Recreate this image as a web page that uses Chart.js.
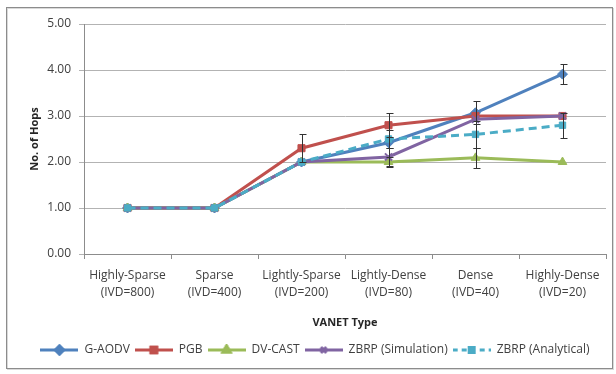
<!DOCTYPE html>
<html>
<head>
<meta charset="utf-8">
<script src="https://cdn.jsdelivr.net/npm/chart.js@4/dist/chart.umd.min.js"></script>
<style>
  html, body { margin: 0; padding: 0; background: #fff; }
  #wrap { position: relative; width: 616px; height: 374px; }
</style>
</head>
<body>
<div id="wrap"><canvas id="myChart" width="616" height="374"></canvas></div>
<script>
let labels = [['Highly-Sparse', '(IVD=800)'], ['Sparse', '(IVD=400)'], ['Lightly-Sparse', '(IVD=200)'],
  ['Lightly-Dense', '(IVD=80)'], ['Dense', '(IVD=40)'], ['Highly-Dense', '(IVD=20)']];
let seriesNames = ['G-AODV', 'PGB', 'DV-CAST', 'ZBRP (Simulation)', 'ZBRP (Analytical)'];
let gAodv = [1.00, 1.00, 2.00, 2.42, 3.07, 3.91];
let pgb = [1.00, 1.00, 2.30, 2.80, 3.00, 3.00];
let dvCast = [1.00, 1.00, 2.00, 2.00, 2.09, 2.00];
let zbrpSim = [1.00, 1.00, 2.00, 2.11, 2.93, 3.00];
let zbrpAna = [1.00, 1.00, 2.00, 2.50, 2.60, 2.80];
// +/- error bar sizes (0 = none drawn)
let gAodvErr = [0, 0, 0, 0, 0.25, 0.21];
let pgbErr = [0, 0, 0.31, 0.26, 0, 0];
let dvCastErr = [0, 0, 0, 0.1, 0.22, 0];
let zbrpSimErr = [0, 0, 0, 0.2, 0, 0];
let zbrpAnaErr = [0, 0, 0, 0.2, 0.3, 0.27];
let yTicks = [0, 1, 2, 3, 4, 5];

let colorHex = ['#4F81BD', '#C0504D', '#9BBB59', '#8064A2', '#4BACC6'];
let markers = ['rectRot', 'rect', 'triangle', 'crossRot', 'rect'];
let radii = [5, 5, 5, 5, 4.5];
let dashes = [[], [], [], [], [8, 5]];
let FONT = "'Open Sans', 'Liberation Sans', sans-serif";

// little line+marker pictures for the legend
function legendIcon(i) {
  let c = document.createElement('canvas');
  c.width = 38; c.height = 12;
  let g = c.getContext('2d');
  g.strokeStyle = colorHex[i];
  g.lineWidth = 3;
  g.setLineDash(dashes[i].length ? [5, 4] : []);
  g.beginPath(); g.moveTo(0, 6); g.lineTo(38, 6); g.stroke();
  g.setLineDash([]);
  Chart.helpers.drawPoint(g, {
    pointStyle: markers[i], radius: radii[i] - 1, borderWidth: 2, rotation: 0
  }, 19, 6);
  g.fillStyle = colorHex[i];
  g.beginPath();
  if (markers[i] !== 'crossRot') {
    Chart.helpers.drawPoint(g, {pointStyle: markers[i], radius: radii[i] - 1, borderWidth: 1, rotation: 0}, 19, 6);
    g.fill();
  }
  return c;
}

let errorBars = {
  id: 'errorBars',
  afterDatasetsDraw(chart) {
    let g = chart.ctx;
    let y = chart.scales.y;
    g.save();
    g.strokeStyle = '#333333';
    g.lineWidth = 1;
    chart.data.datasets.forEach((ds, di) => {
      let meta = chart.getDatasetMeta(di);
      ds.errors.forEach((e, k) => {
        if (!e) return;
        let x = Math.round(meta.data[k].x) + 0.5;
        let top = Math.round(y.getPixelForValue(ds.data[k] + e)) + 0.5;
        let bot = Math.round(y.getPixelForValue(ds.data[k] - e)) + 0.5;
        g.beginPath();
        g.moveTo(x, top); g.lineTo(x, bot);
        g.moveTo(x - 3, top); g.lineTo(x + 4, top);
        g.moveTo(x - 3, bot); g.lineTo(x + 4, bot);
        g.stroke();
      });
    });
    g.restore();
  }
};

let frame = {
  id: 'frame',
  beforeDraw(chart) {
    let g = chart.ctx;
    g.save();
    g.strokeStyle = '#d9d9d9';
    g.strokeRect(7.5, 8.5, 606, 361);
    g.strokeStyle = '#8c8c8c';
    g.strokeRect(6.5, 7.5, 606, 361);
    g.restore();
  }
};

let allData = [gAodv, pgb, dvCast, zbrpSim, zbrpAna];
let allErr = [gAodvErr, pgbErr, dvCastErr, zbrpSimErr, zbrpAnaErr];

let datasets = seriesNames.map((name, i) => ({
  label: name,
  data: allData[i],
  errors: allErr[i],
  borderColor: colorHex[i],
  backgroundColor: colorHex[i],
  borderWidth: 3,
  borderDash: dashes[i],
  pointStyle: markers[i],
  pointRadius: radii[i],
  pointBorderWidth: markers[i] === 'crossRot' ? 2 : 1,
  pointBackgroundColor: colorHex[i],
  pointBorderColor: colorHex[i],
  tension: 0,
  order: 4 - i
}));

let ctx = document.getElementById('myChart').getContext('2d');
let myChart = new Chart(ctx, {
  type: 'line',
  data: { labels: labels, datasets: datasets },
  plugins: [frame, errorBars],
  options: {
    responsive: false,
    animation: false,
    layout: { padding: { left: 24, right: 10, top: 24, bottom: 8 } },
    plugins: {
      tooltip: { enabled: false },
      legend: {
        position: 'bottom',
        labels: {
          usePointStyle: true,
          pointStyleWidth: 38,
          padding: 5,
          color: '#404040',
          font: { family: FONT, size: 12 },
          generateLabels: (chart) => chart.data.datasets.map((ds, i) => ({
            text: ds.label,
            pointStyle: legendIcon(i),
            fillStyle: colorHex[i],
            strokeStyle: colorHex[i],
            lineWidth: 0,
            fontColor: '#404040',
            datasetIndex: i
          }))
        }
      }
    },
    scales: {
      x: {
        offset: true,
        grid: { offset: true, drawOnChartArea: false, drawTicks: true, tickLength: 5, color: '#8c8c8c' },
        border: { color: '#8c8c8c' },
        ticks: {
          maxRotation: 0, autoSkip: false, padding: 8, color: '#404040',
          font: { family: FONT, size: 12, lineHeight: 1.42 }
        },
        title: {
          display: true, text: 'VANET Type', color: '#262626',
          font: { family: FONT, size: 11, weight: 'bold' }, padding: { top: 6, bottom: 10 }
        },
        afterFit: (scale) => { scale.height = 85; }
      },
      y: {
        min: 0, max: 5,
        afterBuildTicks: (scale) => { scale.ticks = yTicks.map(v => ({ value: v })); },
        grid: { color: '#b3b3b3', tickLength: 5 },
        border: { color: '#8c8c8c' },
        ticks: {
          padding: 8, color: '#404040',
          font: { family: FONT, size: 12 },
          callback: (v) => Number(v).toFixed(2)
        },
        title: {
          display: true, text: 'No. of Hops', color: '#262626',
          font: { family: FONT, size: 11, weight: 'bold' }, padding: { top: 4, bottom: 4 }
        },
        afterFit: (scale) => { scale.width = 60; }
      }
    }
  }
});
</script>
</body>
</html>
